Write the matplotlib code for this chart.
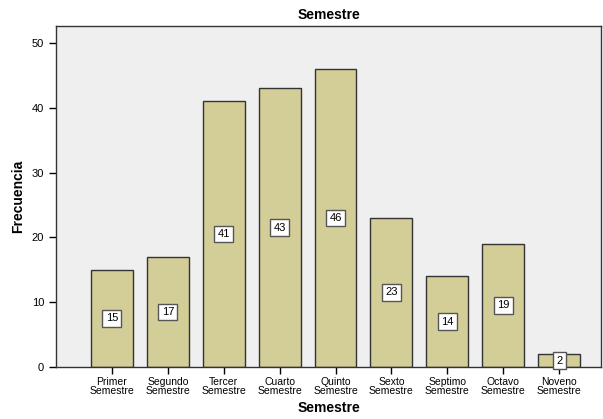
import matplotlib.pyplot as plt
import numpy as np

# Datos
semestres = ['Primer\nSemestre', 'Segundo\nSemestre', 'Tercer\nSemestre', 'Cuarto\nSemestre',
             'Quinto\nSemestre', 'Sexto\nSemestre', 'Septimo\nSemestre', 'Octavo\nSemestre',
             'Noveno\nSemestre']
frecuencia = [15, 17, 41, 43, 46, 23, 14, 19, 2]

plt.rcParams['font.family'] = ['Liberation Sans', 'DejaVu Sans']

fig = plt.figure(figsize=(6.03, 4.19), dpi=100)
ax = fig.add_axes([0.0929, 0.1241, 0.9038, 0.8139])
ax.set_facecolor('#efefef')

x = np.arange(len(semestres))
ax.bar(x, frecuencia, width=0.75, color='#d3ce97', edgecolor='#333333', linewidth=1.0, zorder=2)

# Etiquetas de valor en el centro de cada barra
for xi, v in zip(x, frecuencia):
    ax.text(xi, v / 2, str(v), ha='center', va='center', fontsize=8, zorder=3,
            bbox=dict(boxstyle='square,pad=0.3', facecolor='white', edgecolor='#555555', linewidth=1))

ax.set_xlim(-1.0, 8.75)
ax.set_ylim(0, 52.6)
ax.set_yticks([0, 10, 20, 30, 40, 50])
ax.set_xticks(x)
ax.set_xticklabels(semestres, fontsize=7.5, linespacing=0.85)
ax.tick_params(axis='y', labelsize=8, length=5, width=1, direction='out')
ax.tick_params(axis='x', length=5, width=1, direction='out', pad=2)
for s in ax.spines.values():
    s.set_color('#333333')
    s.set_linewidth(1)

ax.set_title('Semestre', fontsize=10, fontweight='bold', pad=5)
ax.set_xlabel('Semestre', fontsize=10, fontweight='bold', labelpad=4)
ax.set_ylabel('Frecuencia', fontsize=10, fontweight='bold', labelpad=5)

fig.savefig('out.png', dpi=100)
